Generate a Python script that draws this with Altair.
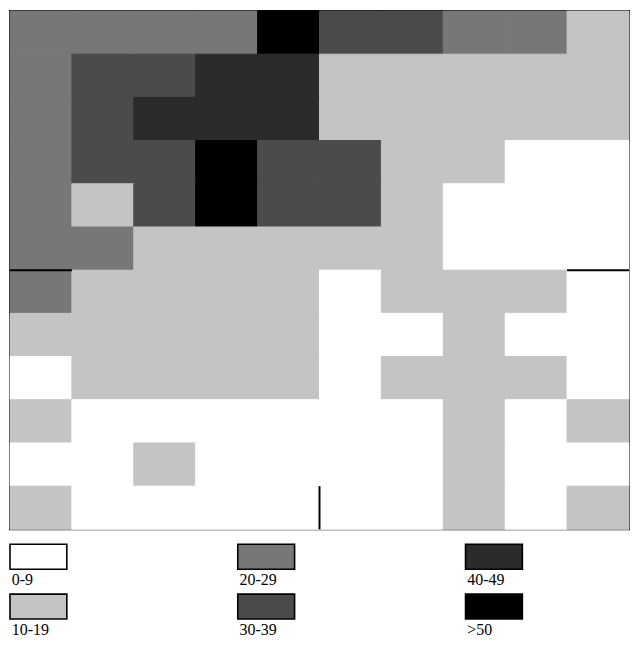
import altair as alt
import pandas as pd

# Class labels and their grey shades
levels = ["0-9", "10-19", "20-29", "30-39", "40-49", ">50"]
grays = ["#ffffff", "#c4c4c4", "#777777", "#4b4b4b", "#2b2b2b", "#000000"]

# Grid of class indices (rows top to bottom, 10 columns each)
grid_rows = [
    [2, 2, 2, 2, 5, 3, 3, 2, 2, 1],
    [2, 3, 3, 4, 4, 1, 1, 1, 1, 1],
    [2, 3, 4, 4, 4, 1, 1, 1, 1, 1],
    [2, 3, 3, 5, 3, 3, 1, 1, 0, 0],
    [2, 1, 3, 5, 3, 3, 1, 0, 0, 0],
    [2, 2, 1, 1, 1, 1, 1, 0, 0, 0],
    [2, 1, 1, 1, 1, 0, 1, 1, 1, 0],
    [1, 1, 1, 1, 1, 0, 0, 1, 0, 0],
    [0, 1, 1, 1, 1, 0, 1, 1, 1, 0],
    [1, 0, 0, 0, 0, 0, 0, 1, 0, 1],
    [0, 0, 1, 0, 0, 0, 0, 1, 0, 0],
    [1, 0, 0, 0, 0, 0, 0, 1, 0, 1],
]

# Short boundary line segments (grid units)
line_x = [0, 9, 5]
line_x2 = [1, 10, 5]
line_y = [6, 6, 11]
line_y2 = [6, 6, 12]

# Legend layout (column-major, labels under swatches)
legend_labels = ["0-9", "10-19", "20-29", "30-39", "40-49", ">50"]
legend_col = [0, 0, 1, 1, 2, 2]
legend_row = [0, 1, 0, 1, 0, 1]

n_rows = len(grid_rows)
n_cols = len(grid_rows[0])

cells = pd.DataFrame(
    [
        {"col": c, "col2": c + 1, "row": r, "row2": r + 1, "level": levels[v]}
        for r, row in enumerate(grid_rows)
        for c, v in enumerate(row)
    ]
)
lines = pd.DataFrame({"x": line_x, "x2": line_x2, "y": line_y, "y2": line_y2})

W = 621
H = 520
LH = 100
ROW_PX = 50.0
COL_PX = 228.5

x_scale = alt.Scale(domain=[0, n_cols], nice=False, zero=False)
y_scale = alt.Scale(domain=[0, n_rows], reverse=True, nice=False, zero=False)
color_scale = alt.Scale(domain=levels, range=grays)

heat = alt.Chart(cells).mark_rect(strokeWidth=1).encode(
    x=alt.X("col:Q", scale=x_scale, axis=None),
    x2="col2:Q",
    y=alt.Y("row:Q", scale=y_scale, axis=None),
    y2="row2:Q",
    color=alt.Color("level:N", scale=color_scale, legend=None),
    stroke=alt.Stroke("level:N", scale=color_scale, legend=None),
)

rules = alt.Chart(lines).mark_rule(color="black", strokeWidth=2).encode(
    x=alt.X("x:Q", scale=x_scale, axis=None),
    x2="x2:Q",
    y=alt.Y("y:Q", scale=y_scale, axis=None),
    y2="y2:Q",
)

heat_panel = alt.layer(heat, rules).properties(
    width=W,
    height=H,
    view=alt.ViewBackground(stroke="black", strokeWidth=2),
)

leg = pd.DataFrame({"label": legend_labels, "col": legend_col, "row": legend_row})
lx = alt.Scale(domain=[0, W / COL_PX], nice=False, zero=False)
ly = alt.Scale(domain=[0, LH / ROW_PX], reverse=True, nice=False, zero=False)

sw_top = 13 / ROW_PX
sw_bot = 38 / ROW_PX
lab_base = 54 / ROW_PX

swatches = (
    alt.Chart(leg)
    .transform_calculate(
        x0="datum.col", x1="datum.col + 0.2495",
        y0=f"datum.row + {sw_top}", y1=f"datum.row + {sw_bot}",
    )
    .mark_rect(stroke="black", strokeWidth=1.6)
    .encode(
        x=alt.X("x0:Q", scale=lx, axis=None),
        x2="x1:Q",
        y=alt.Y("y0:Q", scale=ly, axis=None),
        y2="y1:Q",
        color=alt.Color("label:N", scale=color_scale, legend=None),
    )
)

labels = (
    alt.Chart(leg)
    .transform_calculate(tx="datum.col + 0.008", ty=f"datum.row + {lab_base}")
    .mark_text(align="left", baseline="alphabetic", font="Liberation Serif",
               fontSize=16, color="black")
    .encode(
        x=alt.X("tx:Q", scale=lx, axis=None),
        y=alt.Y("ty:Q", scale=ly, axis=None),
        text="label:N",
    )
)

legend_panel = alt.layer(swatches, labels).properties(
    width=W,
    height=LH,
    view=alt.ViewBackground(strokeWidth=0),
)

chart = alt.vconcat(heat_panel, legend_panel, spacing=0).properties(
    padding=0, background="white"
)

chart.save("out.html", embed_options={"renderer": "svg", "actions": False})
